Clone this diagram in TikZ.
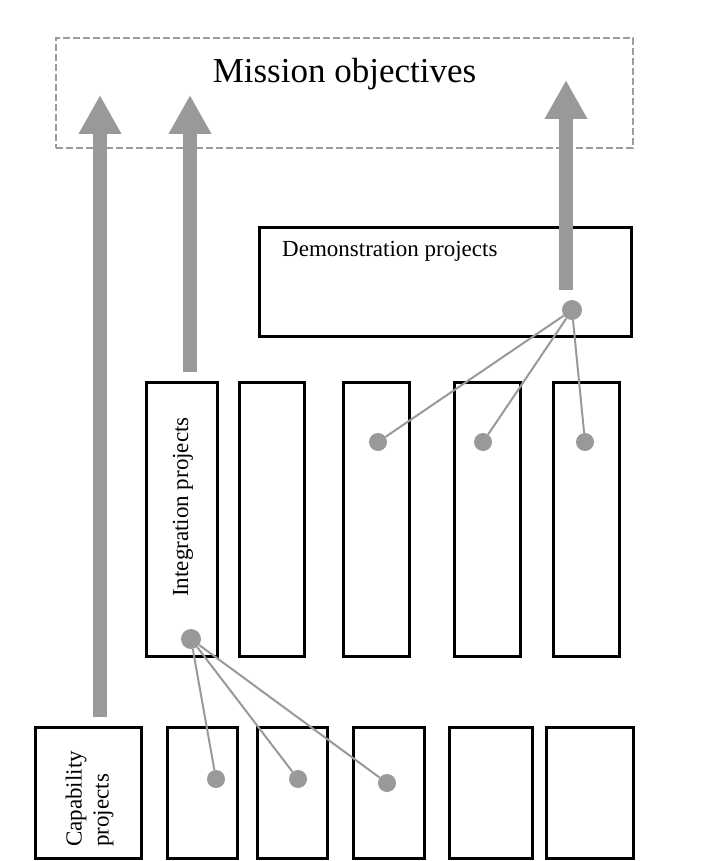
\documentclass[tikz,border=0pt]{standalone}
\usepackage{fontspec}
\setmainfont{Liberation Serif}
\usetikzlibrary{arrows.meta}
\definecolor{arrowgray}{HTML}{999999}
\definecolor{dashgray}{HTML}{9C9C9C}
\begin{document}
\begin{tikzpicture}[x=1pt,y=-1pt,
  box/.style={draw=black, line width=3pt, inner sep=0pt},
  dashbox/.style={draw=dashgray, line width=2.4pt, dash pattern=on 7pt off 3pt, inner sep=0pt},
  bigdot/.style={circle, fill=arrowgray, inner sep=0pt, minimum size=20pt},
  smalldot/.style={circle, fill=arrowgray, inner sep=0pt, minimum size=18pt},
  link/.style={draw=arrowgray, line width=2pt},
  bigarrow/.style={draw=arrowgray, line width=14pt, -{Triangle[width=40pt,length=39pt]}},
  smalltext/.style={font=\fontsize{23}{27}\selectfont, inner sep=0pt},
  bigtext/.style={font=\fontsize{35}{40}\selectfont, inner sep=0pt}]
\useasboundingbox (0,0) rectangle (719,861);
% mission objectives
\node[dashbox, minimum width=577pt, minimum height=110pt] (mission) at (344.5,93) {};
\node[bigtext, anchor=base] (missiontxt) at (344.5,83) {Mission objectives};
% demonstration
\node[box, minimum width=372pt, minimum height=109pt] (demo) at (445,281.5) {};
\node[smalltext, anchor=base west] (demotxt) at (282,256) {Demonstration projects};
% middle row
\node[box, minimum width=71pt, minimum height=274pt] (m1) at (181.5,519) {};
\node[box, minimum width=65pt, minimum height=274pt] (m2) at (271.5,519) {};
\node[box, minimum width=66pt, minimum height=274pt] (m3) at (376,519) {};
\node[box, minimum width=66pt, minimum height=274pt] (m4) at (487,519) {};
\node[box, minimum width=66pt, minimum height=274pt] (m5) at (586,519) {};
\node[smalltext, rotate=90] (inttxt) at (183,507) {Integration projects};
% bottom row
\node[box, minimum width=106pt, minimum height=131pt] (b0) at (88,792.5) {};
\node[box, minimum width=70pt, minimum height=131pt] (b1) at (202,792.5) {};
\node[box, minimum width=70pt, minimum height=131pt] (b2) at (292,792.5) {};
\node[box, minimum width=71pt, minimum height=131pt] (b3) at (388.5,792.5) {};
\node[box, minimum width=83pt, minimum height=131pt] (b4) at (490.5,792.5) {};
\node[box, minimum width=87pt, minimum height=131pt] (b5) at (589.5,792.5) {};
\node[smalltext, rotate=90, anchor=west, align=left] (captxt) at (89.5,847) {Capability\\projects};
% dots
\node[bigdot] (dD) at (572,310) {};
\node[smalldot] (dm3) at (378,442) {};
\node[smalldot] (dm4) at (483,442) {};
\node[smalldot] (dm5) at (585,442) {};
\node[bigdot] (dI) at (191,639) {};
\node[smalldot] (db1) at (216,779) {};
\node[smalldot] (db2) at (298,779) {};
\node[smalldot] (db3) at (387,783) {};
% links
\draw[link] (dD) -- (dm3);
\draw[link] (dD) -- (dm4);
\draw[link] (dD) -- (dm5);
\draw[link] (dI) -- (db1);
\draw[link] (dI) -- (db2);
\draw[link] (dI) -- (db3);
% big arrows
\coordinate (s1) at (100,717);
\coordinate (t1) at (100,95);
\coordinate (s2) at (190,372);
\coordinate (t2) at (190,95);
\coordinate (s3) at (566,290);
\coordinate (t3) at (566,80);
\draw[bigarrow] (s1) -- (t1);
\draw[bigarrow] (s2) -- (t2);
\draw[bigarrow] (s3) -- (t3);
\end{tikzpicture}
\end{document}
